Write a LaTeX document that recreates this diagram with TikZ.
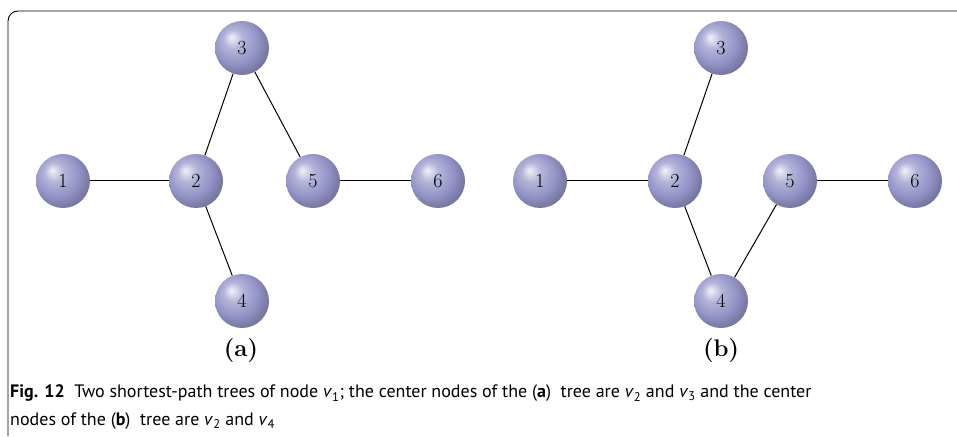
\documentclass[tikz,border=0pt]{standalone}
\usepackage{fontspec}
\setsansfont{PT Sans}

\definecolor{ballblue}{RGB}{148,148,200}
% softer variant of the ball shading
\pgfdeclareradialshading{lightball}{\pgfqpoint{-10bp}{10bp}}{%
  color(0bp)=(ballblue!12!white);
  color(9bp)=(ballblue!70!white);
  color(20bp)=(ballblue);
  color(28bp)=(ballblue!82!black);
  color(50bp)=(ballblue!40!black)}

\tikzset{
  ball/.style={circle,shading=lightball,minimum size=54pt,inner sep=0pt,
    font=\fontsize{20}{20}\selectfont},
  sublabel/.style={font=\fontsize{24}{24}\selectfont\bfseries},
  captionline/.style={anchor=base west,inner sep=0pt,
    font=\sffamily\fontsize{18}{22}\selectfont}
}

\begin{document}
\begin{tikzpicture}[x=1pt,y=1pt]
      \useasboundingbox (0,0) rectangle (957,436);

      % frame
      \draw[line width=0.9pt] (8,0) -- (8,415) arc[start angle=180,end angle=90,radius=10] -- (957,425);

      % tree (a)
      \begin{scope}[every node/.style={ball}]
        \node (a1) at (63,255)  {1};
        \node (a2) at (196,255) {2};
        \node (a3) at (242,388) {3};
        \node (a4) at (242,135) {4};
        \node (a5) at (313,255) {5};
        \node (a6) at (438,255) {6};
      \end{scope}

      % tree (b)
      \begin{scope}[every node/.style={ball}]
        \node (b1) at (540,255) {1};
        \node (b2) at (675,255) {2};
        \node (b3) at (721,388) {3};
        \node (b4) at (721,135) {4};
        \node (b5) at (790,255) {5};
        \node (b6) at (915,255) {6};
      \end{scope}

      \begin{scope}[every edge/.style={draw,line width=1pt}]
        \path (a1) edge (a2);
        \path (a2) edge (a3);
        \path (a3) edge (a5);
        \path (a2) edge (a4);
        \path (a5) edge (a6);

        \path (b1) edge (b2);
        \path (b2) edge (b3);
        \path (b2) edge (b4);
        \path (b4) edge (b5);
        \path (b5) edge (b6);
      \end{scope}

      \node[sublabel] (la) at (241,85) {(a)};
      \node[sublabel] (lb) at (721,85) {(b)};

      % caption
      \node[captionline] (cap1) at (10,38)
        {\textbf{Fig. 12}\ \ Two shortest-path trees of node \textit{v}\textsubscript{1}; the center nodes of the (\textbf{a})\ \ tree are \textit{v}\textsubscript{2} and \textit{v}\textsubscript{3} and the center};
      \node[captionline] (cap2) at (10,11)
        {nodes of the (\textbf{b})\ \ tree are \textit{v}\textsubscript{2} and \textit{v}\textsubscript{4}};

    \end{tikzpicture}
\end{document}
